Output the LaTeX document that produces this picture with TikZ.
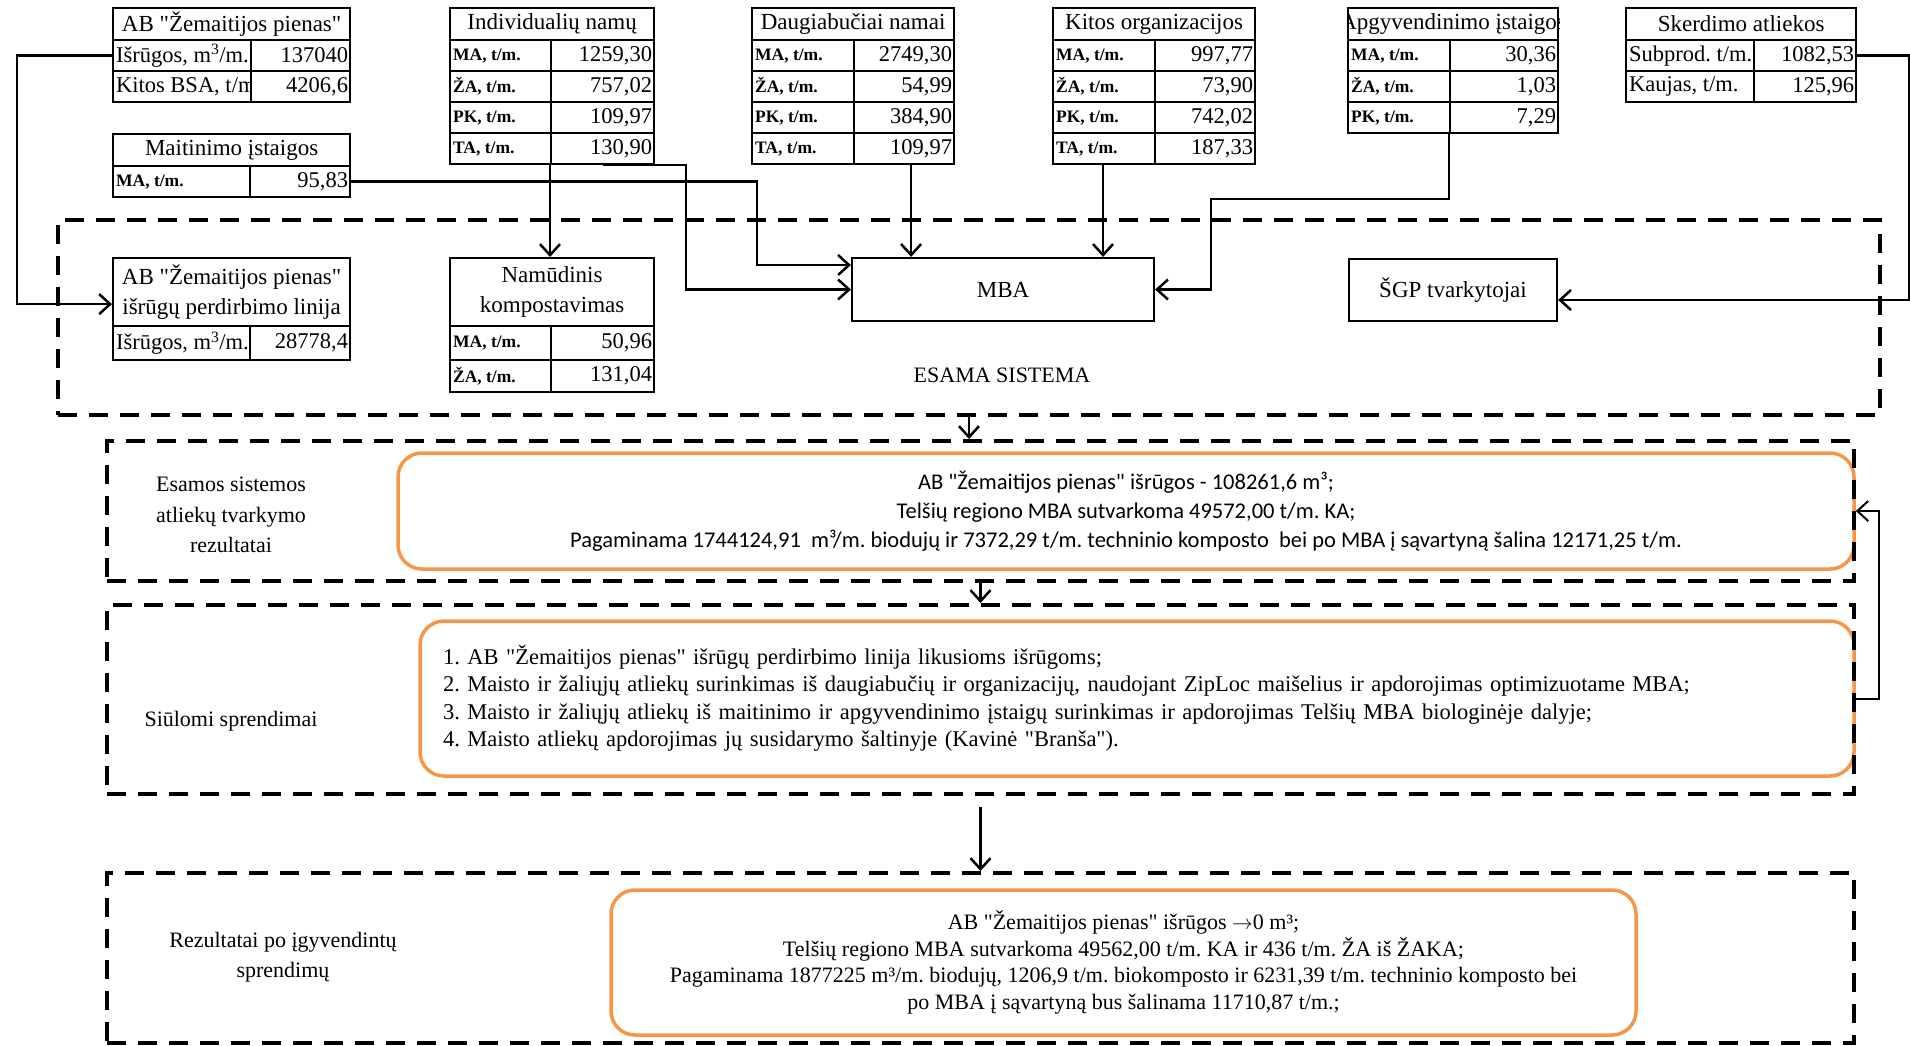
\documentclass[tikz,border=0pt]{standalone}
\usepackage{fontspec}
\setmainfont{Liberation Serif}[Ligatures=TeXOff]
\newfontfamily\calib{Carlito}
\usetikzlibrary{arrows.meta}
\definecolor{orng}{HTML}{F79646}
\frenchspacing

\tikzset{
	cell/.style={draw, line width=2.2pt, anchor=north west, inner sep=0pt, minimum height=31pt},
	hdr/.style={cell, align=center, font=\fontsize{23}{30.5}\selectfont},
	lab/.style={cell, inner xsep=3pt, font=\fontsize{17.5}{20}\bfseries\selectfont,
		execute at begin node={\hbox to \dimexpr#1-6pt\relax\bgroup}, execute at end node={\hss\egroup}},
	labr/.style={lab=#1, font=\fontsize{22.5}{25}\selectfont},
	val/.style={cell, fill=white, inner xsep=2pt, font=\fontsize{22.5}{25}\selectfont,
		execute at begin node={\hbox to \dimexpr#1-4pt\relax\bgroup\hss}, execute at end node={\egroup}},
	box/.style={draw, line width=2.2pt, inner sep=0pt, font=\fontsize{23}{26}\selectfont},
	dbox/.style={draw, line width=4pt, dash pattern=on 19pt off 12pt, inner sep=0pt, minimum width=1747pt},
	obox/.style={draw=orng, line width=3.5pt, rounded corners=24pt, inner sep=0pt},
	lbl/.style={align=center, font=\fontsize{22}{30.5}\selectfont},
	conn/.style={line width=2.5pt, -{Straight Barb[length=11pt, width=20pt]}}
}

\begin{document}
\begin{tikzpicture}[x=1pt, y=-1pt]
	\useasboundingbox (0,0) rectangle (1910,1045);

	% orange result boxes and dashed frames
	\node[obox, minimum width=1456pt, minimum height=116pt, align=center, font=\calib\fontsize{22.5}{29}\selectfont] (resO) at (1126,511)
		{AB "Žemaitijos pienas" išrūgos - 108261,6 m³;\\Telšių regiono MBA sutvarkoma 49572,00 t/m. KA;\\Pagaminama 1744124,91 \ m³/m. biodujų ir 7372,29 t/m. techninio komposto \ bei po MBA į sąvartyną šalina 12171,25 t/m.};
	\node[obox, minimum width=1434pt, minimum height=155pt, inner xsep=23pt, text width=1388pt, align=left, font=\fontsize{22.5}{27.5}\selectfont] (propO) at (1137,698.5)
		{1. AB "Žemaitijos pienas" išrūgų perdirbimo linija likusioms išrūgoms;\\2. Maisto ir žaliųjų atliekų surinkimas iš daugiabučių ir organizacijų, naudojant ZipLoc maišelius ir apdorojimas optimizuotame MBA;\\3. Maisto ir žaliųjų atliekų iš maitinimo ir apgyvendinimo įstaigų surinkimas ir apdorojimas Telšių MBA biologinėje dalyje;\\4. Maisto atliekų apdorojimas jų susidarymo šaltinyje (Kavinė "Branša").};
	\node[obox, minimum width=1025pt, minimum height=145pt, align=center, font=\fontsize{22}{26.5}\selectfont] (aftO) at (1123.5,962.5)
		{AB "Žemaitijos pienas" išrūgos $\rightarrow$0 m³;\\Telšių regiono MBA sutvarkoma 49562,00 t/m. KA ir 436 t/m. ŽA iš ŽAKA;\\Pagaminama 1877225 m³/m. biodujų, 1206,9 t/m. biokomposto ir 6231,39 t/m. techninio komposto bei\\po MBA į sąvartyną bus šalinama 11710,87 t/m.;};

	\node[dbox, minimum width=1822pt, minimum height=195pt] (sys) at (969,317.5) {};
	\node[dbox, minimum height=140pt] (res) at (980.5,511) {};
	\node[dbox, minimum height=189pt] (prop) at (980.5,699.5) {};
	\node[dbox, minimum height=170pt] (aft) at (980.5,958) {};

	\node[lbl] (sysL) at (1002,375) {ESAMA SISTEMA};
	\node[lbl] (resL) at (231,515) {Esamos sistemos\\atliekų tvarkymo\\rezultatai};
	\node[lbl] (propL) at (231,721) {Siūlomi sprendimai};
	\node[lbl] (aftL) at (283,957) {Rezultatai po įgyvendintų\\sprendimų};

	% source tables
	\node[hdr, minimum width=237pt, minimum height=32pt] (zemH) at (112,7) {AB "Žemaitijos pienas"};
	\node[labr=138pt] (zemI) at (112,39) {Išrūgos, m\textsuperscript{3}/m.};
	\node[val=99pt] (zemIv) at (250,39) {137040};
	\node[labr=138pt] (zemK) at (112,70) {Kitos BSA, t/m.};
	\node[val=99pt] (zemKv) at (250,70) {4206,6};

	\node[hdr, minimum width=237pt, minimum height=32pt] (maitH) at (112,133) {Maitinimo įstaigos};
	\node[lab=137pt] (maitM) at (112,165) {MA, t/m.};
	\node[val=100pt] (maitMv) at (249,165) {95,83};

	\node[hdr, minimum width=204pt, minimum height=32pt] (indH) at (449,7) {Individualių namų};
	\node[lab=101pt] (indM) at (449,39) {MA, t/m.};
	\node[val=103pt] (indMv) at (550,39) {1259,30};
	\node[lab=101pt] (indZ) at (449,70) {ŽA, t/m.};
	\node[val=103pt] (indZv) at (550,70) {757,02};
	\node[lab=101pt] (indP) at (449,101) {PK, t/m.};
	\node[val=103pt] (indPv) at (550,101) {109,97};
	\node[lab=101pt] (indT) at (449,132) {TA, t/m.};
	\node[val=103pt] (indTv) at (550,132) {130,90};

	\node[hdr, minimum width=202pt, minimum height=32pt] (daugH) at (751,7) {Daugiabučiai namai};
	\node[lab=102pt] (daugM) at (751,39) {MA, t/m.};
	\node[val=100pt] (daugMv) at (853,39) {2749,30};
	\node[lab=102pt] (daugZ) at (751,70) {ŽA, t/m.};
	\node[val=100pt] (daugZv) at (853,70) {54,99};
	\node[lab=102pt] (daugP) at (751,101) {PK, t/m.};
	\node[val=100pt] (daugPv) at (853,101) {384,90};
	\node[lab=102pt] (daugT) at (751,132) {TA, t/m.};
	\node[val=100pt] (daugTv) at (853,132) {109,97};

	\node[hdr, minimum width=202pt, minimum height=32pt] (kitH) at (1052,7) {Kitos organizacijos};
	\node[lab=102pt] (kitM) at (1052,39) {MA, t/m.};
	\node[val=100pt] (kitMv) at (1154,39) {997,77};
	\node[lab=102pt] (kitZ) at (1052,70) {ŽA, t/m.};
	\node[val=100pt] (kitZv) at (1154,70) {73,90};
	\node[lab=102pt] (kitP) at (1052,101) {PK, t/m.};
	\node[val=100pt] (kitPv) at (1154,101) {742,02};
	\node[lab=102pt] (kitT) at (1052,132) {TA, t/m.};
	\node[val=100pt] (kitTv) at (1154,132) {187,33};

	\node[hdr, minimum width=210pt, minimum height=32pt] (apgH) at (1347,7) {};
	\begin{scope}
		\clip (apgH.north west) rectangle (apgH.south east);
		\node[font=\fontsize{23}{26}\selectfont] (apgHt) at (apgH.center) {Apgyvendinimo įstaigos};
	\end{scope}
	\node[lab=102pt] (apgM) at (1347,39) {MA, t/m.};
	\node[val=108pt] (apgMv) at (1449,39) {30,36};
	\node[lab=102pt] (apgZ) at (1347,70) {ŽA, t/m.};
	\node[val=108pt] (apgZv) at (1449,70) {1,03};
	\node[lab=102pt] (apgP) at (1347,101) {PK, t/m.};
	\node[val=108pt] (apgPv) at (1449,101) {7,29};

	\node[hdr, minimum width=230pt, minimum height=32pt] (skerH) at (1625,7) {Skerdimo atliekos};
	\node[labr=128pt] (skerS) at (1625,39) {Subprod. t/m.};
	\node[val=102pt] (skerSv) at (1753,39) {1082,53};
	\node[labr=128pt] (skerK) at (1625,70) {Kaujas, t/m.};
	\node[val=102pt] (skerKv) at (1753,70) {125,96};

	% existing system
	\node[hdr, minimum width=237pt, minimum height=68pt] (zemLH) at (112,257) {AB "Žemaitijos pienas"\\išrūgų perdirbimo linija};
	\node[labr=137pt, minimum height=34pt] (zemLI) at (112,325) {Išrūgos, m\textsuperscript{3}/m.};
	\node[val=100pt, minimum height=34pt] (zemLIv) at (249,325) {28778,4};

	\node[hdr, minimum width=204pt, minimum height=68pt] (namH) at (449,257) {Namūdinis\\kompostavimas};
	\node[lab=101pt, minimum height=34pt] (namM) at (449,325) {MA, t/m.};
	\node[val=103pt, minimum height=34pt] (namMv) at (550,325) {50,96};
	\node[lab=101pt, minimum height=32pt] (namZ) at (449,359) {ŽA, t/m.};
	\node[val=103pt, minimum height=32pt] (namZv) at (550,359) {131,04};

	\node[box, minimum width=302pt, minimum height=63pt] (mba) at (1003,289.5) {MBA};
	\node[box, minimum width=208pt, minimum height=62pt] (sgp) at (1453,290) {ŠGP tvarkytojai};

	% flows
	\draw[conn] (zemI.west) -- ++(-95,0) |- ([yshift=-12pt]zemLH.west);
	\draw[conn] (indTv.south west) -- (indTv.south west |- namH.north);
	\draw[conn] (indTv.south) -| ([xshift=-165pt]mba.west) -- (mba.west);
	\draw[conn] (maitMv.east) -| ([xshift=-94pt,yshift=24.5pt]mba.west) -- ([yshift=24.5pt]mba.west);
	\draw[conn] ([xshift=7pt]daugTv.south) -- ([xshift=7pt]daugTv.south |- mba.north);
	\draw[conn] (kitTv.south west) ++(-51,0) -- ([xshift=-51pt]kitTv.south west |- mba.north);
	\draw[conn] (apgPv.south west) -- ++(0,65) -| ([xshift=56pt]mba.east) -- (mba.east);
	\draw[conn] (skerSv.east) -- ++(52,0) |- ([yshift=-10pt]sgp.east);

	\draw[conn] (sys.south) -- (sys.south |- res.north);
	\draw[conn] (res.south) -- (prop.north);
	\draw[conn] ([yshift=-11pt]prop.south) -- (aft.north);
	\draw[conn, line width=2pt] (propO.east) -- ++(23,0) |- (resO.east);

\end{tikzpicture}
\end{document}
